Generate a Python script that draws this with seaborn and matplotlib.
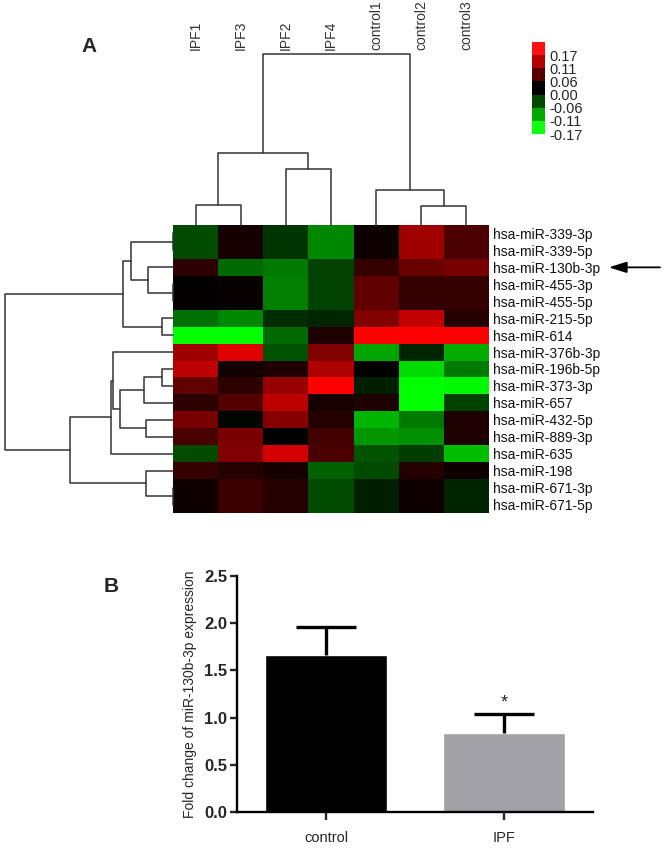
import numpy as np
import pandas as pd
import matplotlib
matplotlib.use('Agg')
import matplotlib.pyplot as plt
import seaborn as sns
from matplotlib.colors import LinearSegmentedColormap, ListedColormap

# ---- panel A data ----
samples = ['IPF1', 'IPF3', 'IPF2', 'IPF4', 'control1', 'control2', 'control3']
mirnas = ['hsa-miR-339-3p', 'hsa-miR-339-5p', 'hsa-miR-130b-3p', 'hsa-miR-455-3p',
          'hsa-miR-455-5p', 'hsa-miR-215-5p', 'hsa-miR-614', 'hsa-miR-376b-3p',
          'hsa-miR-196b-5p', 'hsa-miR-373-3p', 'hsa-miR-657', 'hsa-miR-432-5p',
          'hsa-miR-889-3p', 'hsa-miR-635', 'hsa-miR-198', 'hsa-miR-671-3p',
          'hsa-miR-671-5p']
expr = [
    [-0.050, 0.015, -0.035, -0.090, 0.010, 0.105, 0.050],
    [-0.050, 0.015, -0.035, -0.090, 0.010, 0.105, 0.050],
    [0.030, -0.070, -0.080, -0.045, 0.035, 0.070, 0.080],
    [0.002, 0.005, -0.085, -0.045, 0.065, 0.035, 0.035],
    [0.002, 0.005, -0.085, -0.045, 0.065, 0.035, 0.035],
    [-0.075, -0.090, -0.030, -0.025, 0.085, 0.130, 0.025],
    [-0.170, -0.170, -0.070, 0.020, 0.170, 0.170, 0.170],
    [0.105, 0.150, -0.055, 0.085, -0.110, -0.025, -0.115],
    [0.125, 0.012, 0.020, 0.115, 0.002, -0.145, -0.080],
    [0.065, 0.030, 0.100, 0.170, -0.020, -0.170, -0.165],
    [0.030, 0.055, 0.125, 0.015, 0.020, -0.170, -0.045],
    [0.080, -0.003, 0.090, 0.025, -0.120, -0.080, 0.020],
    [0.050, 0.080, 0.002, 0.045, -0.100, -0.095, 0.020],
    [-0.050, 0.085, 0.140, 0.050, -0.055, -0.040, -0.125],
    [0.035, 0.025, 0.015, -0.065, -0.050, 0.025, 0.010],
    [0.010, 0.040, 0.025, -0.050, -0.020, 0.010, -0.025],
    [0.010, 0.040, 0.025, -0.050, -0.020, 0.010, -0.025],
]
# linkage rows: [node a, node b, height]; nodes >= n are earlier merges
col_links = [[0, 1, 20], [2, 3, 56], [7, 8, 72], [5, 6, 19], [4, 10, 35], [9, 11, 170]]
row_links = [[0, 1, 0.4], [3, 4, 0.4], [2, 18, 25], [17, 19, 42], [5, 6, 11],
             [20, 21, 50], [8, 9, 11], [23, 10, 29], [11, 12, 27], [24, 25, 53],
             [7, 26, 60], [27, 13, 62], [15, 16, 0.4], [14, 29, 27], [28, 30, 103],
             [22, 31, 168]]
cbar_labels = ['0.17', '0.11', '0.06', '0.00', '-0.06', '-0.11', '-0.17']
cbar_colors = ['#ff1010', '#b00000', '#560000', '#000000', '#004a00', '#00a800', '#10ff10']
marked = 'hsa-miR-130b-3p'

# ---- panel B data ----
groups = ['control', 'IPF']
means = [1.66, 0.84]
sems = [0.30, 0.20]
bar_colors = ['#000000', '#a2a1a6']

sns.set_theme(style='white')
plt.rcParams['font.family'] = ['Liberation Sans', 'DejaVu Sans']


def dendro_segments(links, n):
    pos = {i: i + 0.5 for i in range(n)}
    hgt = {i: 0.0 for i in range(n)}
    segs = []
    for k, (a, b, h) in enumerate(links):
        segs.append(([pos[a], pos[a], pos[b], pos[b]], [hgt[a], h, h, hgt[b]]))
        pos[n + k] = (pos[a] + pos[b]) / 2
        hgt[n + k] = h
    return segs


W, H = 666, 849
fig = plt.figure(figsize=(W / 100, H / 100), dpi=100)


def px_axes(x0, y0, x1, y1):
    return fig.add_axes([x0 / W, 1 - y1 / H, (x1 - x0) / W, (y1 - y0) / H])


ax_heat = px_axes(173, 225, 489, 513)
ax_top = px_axes(173, 54, 489, 225)
ax_left = px_axes(5, 225, 173, 513)
ax_cb = px_axes(532, 42, 545, 134)
ax_bar = px_axes(237, 576, 593, 812)

df = pd.DataFrame(expr, index=mirnas, columns=samples)
gkr = LinearSegmentedColormap.from_list('gkr', ['#00ff00', '#000000', '#ff0000'])
sns.heatmap(df, ax=ax_heat, cmap=gkr, vmin=-0.17, vmax=0.17, cbar=False,
            xticklabels=False, yticklabels=mirnas)
ax_heat.yaxis.tick_right()
ax_heat.tick_params(axis='y', length=0, pad=3, labelsize=10, labelcolor='#111111')
for t in ax_heat.get_yticklabels():
    t.set_rotation(0)

# dendrograms
for xs, hs in dendro_segments(col_links, len(samples)):
    ax_top.plot(xs, hs, color='#333333', lw=1.1, clip_on=False)
ax_top.set_xlim(0, len(samples))
ax_top.set_ylim(0, 170)
ax_top.axis('off')
for i, s in enumerate(samples):
    ax_top.text(i + 0.5, 1.0 + 4 / 171, s, transform=ax_top.get_xaxis_transform(), rotation=90,
                ha='center', va='bottom', fontsize=10, color='#333333')

for ps, hs in dendro_segments(row_links, len(mirnas)):
    ax_left.plot(hs, ps, color='#333333', lw=1.1, clip_on=False)
ax_left.set_ylim(len(mirnas), 0)
ax_left.set_xlim(168, 0)
ax_left.axis('off')

# colour key
sns.heatmap(np.arange(len(cbar_colors)).reshape(-1, 1), ax=ax_cb,
            cmap=ListedColormap(cbar_colors), cbar=False, xticklabels=False, yticklabels=False)
ax_cb.yaxis.tick_right()
ax_cb.set_yticks(np.arange(1, len(cbar_labels) + 1))
ax_cb.set_yticklabels(cbar_labels, rotation=0)
ax_cb.tick_params(axis='y', length=0, pad=3, labelsize=10.5)

# arrow pointing to the highlighted miRNA
r = mirnas.index(marked) + 0.5
ax_heat.annotate('', xy=(1.37, r), xytext=(1.55, r),
                 xycoords=('axes fraction', 'data'), textcoords=('axes fraction', 'data'),
                 arrowprops=dict(arrowstyle='-|>,head_length=0.9,head_width=0.28',
                                 color='black', lw=1.3))

# ---- panel B ----
sns.barplot(x=groups, y=means, hue=groups, palette=bar_colors, saturation=1,
            width=0.68, legend=False, ax=ax_bar)
xs = np.arange(len(groups))
tops = np.array(means) + np.array(sems)
ax_bar.vlines(xs, means, tops, color='black', lw=2.4)
ax_bar.hlines(tops, xs - 0.167, xs + 0.167, color='black', lw=2.4)
ax_bar.text(1, tops[1] + 0.02, '*', ha='center', va='bottom', fontsize=13)
ax_bar.set_xlim(-0.5, 1.5)
ax_bar.set_ylim(0, 2.5)
ax_bar.set_yticks(np.arange(0, 2.51, 0.5))
ax_bar.set_yticklabels(['%.1f' % v for v in np.arange(0, 2.51, 0.5)],
                       fontweight='bold', fontsize=12)
ax_bar.tick_params(axis='y', direction='out', length=5, width=1.7, left=True, pad=2)
ax_bar.tick_params(axis='x', direction='out', length=6, width=1.7, bottom=True,
                   labelsize=10.5, pad=8)
ax_bar.set_ylabel('Fold change of miR-130b-3p expression', fontsize=10, labelpad=5)
sns.despine(ax=ax_bar)
for sp in ['left', 'bottom']:
    ax_bar.spines[sp].set_linewidth(1.7)
    ax_bar.spines[sp].set_color('black')

fig.text(89 / W, 1 - 47 / H, 'A', fontsize=15, fontweight='bold', ha='center', va='center')
fig.text(111 / W, 1 - 587 / H, 'B', fontsize=15, fontweight='bold', ha='center', va='center')

fig.savefig('out.png', dpi=100)
